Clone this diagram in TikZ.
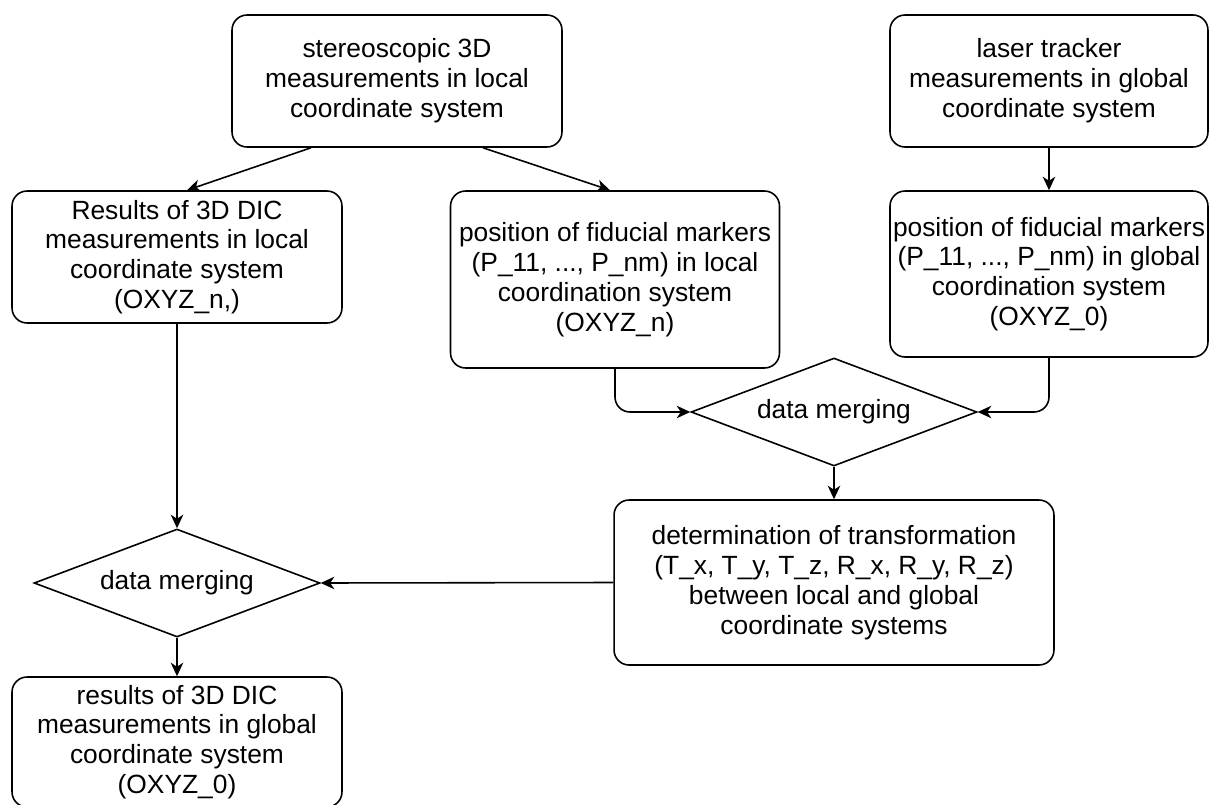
\documentclass[tikz,border=0pt]{standalone}
\usepackage{fontspec}
\setmainfont{Liberation Sans}
\usepackage{tikz}
\usetikzlibrary{shapes.geometric,arrows.meta,calc}
\tikzstyle{block} = [draw, rectangle, rounded corners=0.3cm, align=center, inner sep=0pt, line width=0.9pt]
\tikzstyle{decision} = [draw, diamond, aspect=2.6, inner sep=0pt, minimum width=5.72cm, minimum height=2.16cm, line width=0.9pt]
\tikzstyle{flow} = [-{Stealth[length=0.27cm,width=0.25cm,inset=0.08cm]}, line width=0.9pt]

\begin{document}
\begin{tikzpicture}[x=0.02cm, y=-0.02cm, font=\fontsize{15}{17}\selectfont]
\useasboundingbox (0,0) rectangle (1211,805);

% sources
\node[block, minimum width=6.6cm, minimum height=2.64cm] (stereo) at (397,81)
    {stereoscopic 3D\\measurements in local\\coordinate system};
\node[block, minimum width=6.36cm, minimum height=2.64cm] (laser) at (1049,81)
    {laser tracker\\measurements in global\\coordinate system};

% second row
\node[block, minimum width=6.6cm, minimum height=2.64cm] (results) at (177,257)
    {Results of 3D DIC\\measurements in local\\coordinate system\\(OXYZ\_n,)};
\node[block, minimum width=6.58cm, minimum height=3.54cm] (localpos) at (615,279.5)
    {position of fiducial markers\\(P\_11, ..., P\_nm) in local\\coordination system\\(OXYZ\_n)};
\node[block, minimum width=6.36cm, minimum height=3.32cm] (globalpos) at (1049,274)
    {position of fiducial markers\\(P\_11, ..., P\_nm) in global\\coordination system\\(OXYZ\_0)};

% merging
\node[decision] (mergeA) at (834,412) {data merging};
\node[block, minimum width=8.8cm, minimum height=3.3cm] (transform) at (834,582.5)
    {determination of transformation\\(T\_x, T\_y, T\_z, R\_x, R\_y, R\_z)\\between local and global\\coordinate systems};
\node[decision] (mergeB) at (177,583) {data merging};
\node[block, minimum width=6.6cm, minimum height=2.6cm] (final) at (177,742)
    {results of 3D DIC\\measurements in global\\coordinate system\\(OXYZ\_0)};

% connectors
\draw[flow] ($(stereo.south)+(-86,0)$) -- ($(results.north)+(10,0)$);
\draw[flow] ($(stereo.south)+(86,0)$) -- ($(localpos.north)+(-5,0)$);
\draw[flow] (laser) -- (globalpos);
\draw[flow, rounded corners=0.3cm] (localpos.south) |- (mergeA.west);
\draw[flow, rounded corners=0.3cm] (globalpos.south) |- (mergeA.east);
\draw[flow] (mergeA.south) -- (transform.north);
\draw[flow] (transform.west) -- (mergeB.east);
\draw[flow] (results.south) -- (mergeB.north);
\draw[flow] (mergeB.south) -- (final.north);
\end{tikzpicture}
\end{document}
